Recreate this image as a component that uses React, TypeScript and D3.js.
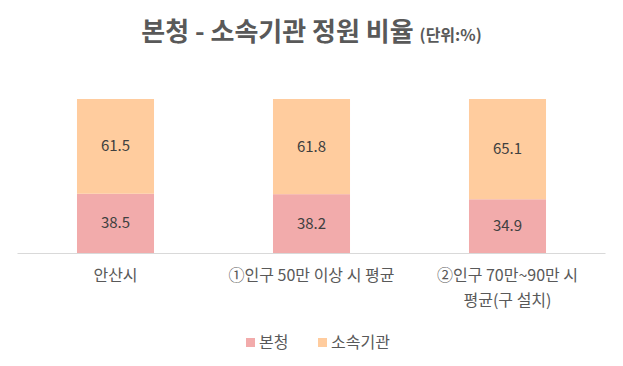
import React, { useEffect, useRef } from "react";
import * as d3 from "d3";

const categories = ["안산시", "①인구 50만 이상 시 평균", "②인구 70만~90만 시 평균(구 설치)"];
const categoryLines = [["안산시"], ["①인구 50만 이상 시 평균"], ["②인구 70만~90만 시", "평균(구 설치)"]];
const seriesNames = ["본청", "소속기관"];
const bonValues = [38.5, 38.2, 34.9];
const sosokValues = [61.5, 61.8, 65.1];
const colors = ["#F2ABAB", "#FFCC9E"];

const W = 623;
const H = 366;
const font = "'Noto Sans CJK KR', 'Noto Sans', sans-serif";

export default function App() {
  const ref = useRef<SVGSVGElement>(null);

  useEffect(() => {
    const svg = d3.select(ref.current);
    svg.selectAll("*").remove();

    const rows = categories.map((c, i) => ({ cat: c, 본청: bonValues[i], 소속기관: sosokValues[i] }));
    const stacked = d3.stack<any>().keys(seriesNames)(rows);

    const x = d3.scaleBand().domain(categories).range([17.5, 605.5]).paddingInner(0.607).paddingOuter(0.3035);
    const y = d3.scaleLinear().domain([0, 100]).range([253, 99]);

    // title
    const title = svg.append("text")
      .attr("x", W / 2).attr("y", 41)
      .attr("text-anchor", "middle")
      .attr("font-family", font)
      .attr("font-weight", "bold")
      .attr("fill", "#595959");
    title.append("tspan").attr("font-size", 26).text("본청 - 소속기관 정원 비율 ");
    title.append("tspan").attr("font-size", 16).text("(단위:%)");

    // bars
    stacked.forEach((s, si) => {
      const g = svg.append("g");
      g.selectAll("rect").data(s).join("rect")
        .attr("x", (d: any) => x(d.data.cat)!)
        .attr("width", x.bandwidth())
        .attr("y", (d: any) => y(d[1]))
        .attr("height", (d: any) => y(d[0]) - y(d[1]))
        .attr("fill", colors[si]);
      g.selectAll("text").data(s).join("text")
        .attr("x", (d: any) => x(d.data.cat)! + x.bandwidth() / 2)
        .attr("y", (d: any) => (y(d[0]) + y(d[1])) / 2 + 5)
        .attr("text-anchor", "middle")
        .attr("font-family", font)
        .attr("font-size", 15)
        .attr("fill", "#404040")
        .text((d: any) => (d[1] - d[0]).toFixed(1));
    });

    // axis line
    svg.append("line")
      .attr("x1", 17.5).attr("x2", 605.5)
      .attr("y1", 253.5).attr("y2", 253.5)
      .attr("stroke", "#D9D9D9");

    // category labels
    categories.forEach((c, i) => {
      const t = svg.append("text")
        .attr("text-anchor", "middle")
        .attr("font-family", font)
        .attr("font-size", 16)
        .attr("fill", "#595959");
      categoryLines[i].forEach((line, li) => {
        t.append("tspan")
          .attr("x", x(c)! + x.bandwidth() / 2)
          .attr("y", 281 + li * 25)
          .text(line);
      });
    });

    // legend
    const legendX = [246, 318];
    seriesNames.forEach((n, i) => {
      svg.append("rect")
        .attr("x", legendX[i]).attr("y", 338)
        .attr("width", 9).attr("height", 9)
        .attr("fill", colors[i]);
      svg.append("text")
        .attr("x", legendX[i] + 13).attr("y", 348)
        .attr("font-family", font)
        .attr("font-size", 16)
        .attr("fill", "#595959")
        .text(n);
    });
  }, []);

  return (
    <svg ref={ref} width={W} height={H} style={{ position: "absolute", left: 0, top: 0, background: "#fff" }} />
  );
}
